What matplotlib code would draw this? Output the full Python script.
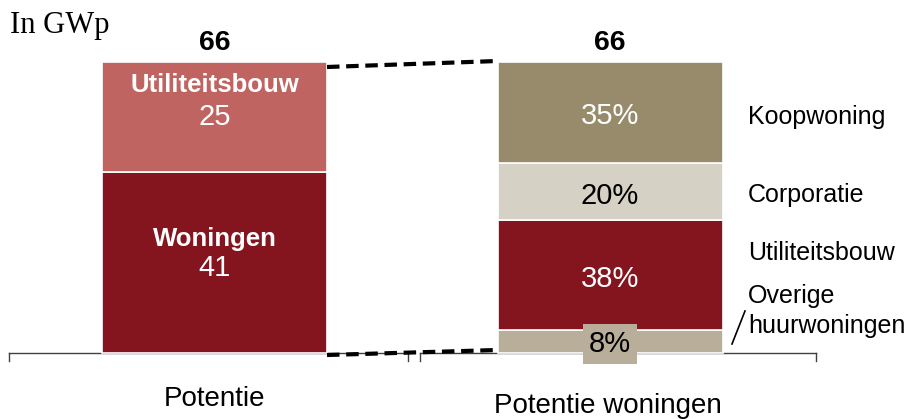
import matplotlib
matplotlib.use("Agg")
import matplotlib.pyplot as plt

# ---------------- data ----------------
categories = ["Potentie", "Potentie woningen"]
potentie_labels = ["Woningen", "Utiliteitsbouw"]
potentie_values = [41, 25]
woningen_labels = ["Overige\nhuurwoningen", "Utiliteitsbouw", "Corporatie", "Koopwoning"]
woningen_pcts = [8, 38, 20, 35]
totals = [66, 66]
unit_label = "In GWp"

# ---------------- style ----------------
pot_colors = ["#84151F", "#C06461"]
won_colors = ["#B8AE99", "#84151F", "#D5D1C5", "#978B6B"]
won_text_colors = ["black", "white", "black", "white"]
SANS = ["Liberation Sans", "DejaVu Sans"]
SERIF = ["Liberation Serif", "DejaVu Serif"]

W, H = 913, 419
fig = plt.figure(figsize=(W / 100, H / 100), dpi=100)
ax = fig.add_axes([0, 0, 1, 1])
X0, XS = 214.5, 395.5          # pixel of x=0, pixels per x-unit
Y0, YS = 353.0, 291.0 / 66.0   # pixel of y=0, pixels per y-unit
ax.set_xlim(-X0 / XS, (W - X0) / XS)
ax.set_ylim(-(H - Y0) / YS, Y0 / YS)
ax.axis("off")

def dx(p):
    return (p - X0) / XS

def dy(p):
    return (Y0 - p) / YS

def ftext(x, y, s, **kw):
    fig.text(x / W, 1 - y / H, s, **kw)

bw = 225 / XS
xpos = [0, 1]

# left bar
bottom = 0
pot_tops = []
for v, c in zip(potentie_values, pot_colors):
    ax.bar(xpos[0], v, bottom=bottom, width=bw, color=c, edgecolor="white", linewidth=1.2, zorder=2)
    pot_tops.append(bottom + v)
    bottom += v

# labels in left bar (name bold, value below)
for lab, top in zip(potentie_labels, pot_tops):
    seg_top_px = Y0 - top * YS
    if lab == "Utiliteitsbouw":
        off_name, off_val = 23, 55
    else:
        off_name, off_val = 67, 96
    ax.text(xpos[0], dy(seg_top_px + off_name), lab, ha="center", va="center",
            color="white", fontsize=18.5, fontweight="bold", family=SANS, zorder=4)
    val = potentie_values[potentie_labels.index(lab)]
    ax.text(xpos[0], dy(seg_top_px + off_val), str(val), ha="center", va="center",
            color="white", fontsize=21, family=SANS, zorder=4)

# right bar (percentages scaled to total)
scale = totals[1] / sum(woningen_pcts)
bottom = 0
for i, (p, c) in enumerate(zip(woningen_pcts, won_colors)):
    h = p * scale
    ax.bar(xpos[1], h, bottom=bottom, width=bw, color=c, edgecolor="white", linewidth=1.2, zorder=2)
    cy = bottom + h / 2
    kw = dict(ha="center", va="center", color=won_text_colors[i], fontsize=21, family=SANS, zorder=5)
    if i == 0:
        kw["bbox"] = dict(boxstyle="square,pad=0.2", fc=c, ec="none")
        ax.text(xpos[1], cy - 0.5, f"{p}%", **kw)
    else:
        ax.text(xpos[1], cy - 0.9, f"{p}%", **kw)
    bottom += h

# totals above bars
for x, t in zip(xpos, totals):
    ax.text(x, dy(43), str(t), ha="center", va="center", fontsize=20.5,
            fontweight="bold", family=SANS)

# dashed connectors
lx = xpos[0] + bw / 2
rx = xpos[1] - bw / 2
ax.plot([lx, rx], [totals[0] - 5 / YS, totals[0] + 1 / YS], color="black", lw=3,
        linestyle=(0, (3, 1.6)), zorder=3, solid_capstyle="butt")
ax.plot([lx, rx], [-2 / YS, 3 / YS], color="black", lw=3,
        linestyle=(0, (3, 1.6)), zorder=3, solid_capstyle="butt")

# axis baselines with end ticks
for a, b in [(9, 408), (420, 816)]:
    ax.plot([dx(a), dx(b)], [0, 0], color="#404040", lw=1, zorder=1)
    for t in (a, b):
        ax.plot([dx(t), dx(t)], [0, dy(361)], color="#404040", lw=1, zorder=1)

# category labels
ax.text(xpos[0], dy(399), categories[0], ha="center", va="center", fontsize=20, family=SANS)
ax.text(xpos[1] - 0.005, dy(406), categories[1], ha="center", va="center", fontsize=20, family=SANS)

# right-side legend labels
ftext(748, 117, woningen_labels[3], ha="left", va="center", fontsize=18, family=SANS)
ftext(748, 195, woningen_labels[2], ha="left", va="center", fontsize=18, family=SANS)
ftext(748, 253, woningen_labels[1], ha="left", va="center", fontsize=18, family=SANS)
ftext(748, 311, woningen_labels[0], ha="left", va="center", fontsize=18, family=SANS,
      linespacing=1.3)
ax.plot([dx(745), dx(732)], [dy(311), dy(344)], color="black", lw=1.2)

# unit label
ftext(10, 25, unit_label, ha="left", va="center", fontsize=22, family=SERIF)

fig.savefig("out.png", dpi=100)
